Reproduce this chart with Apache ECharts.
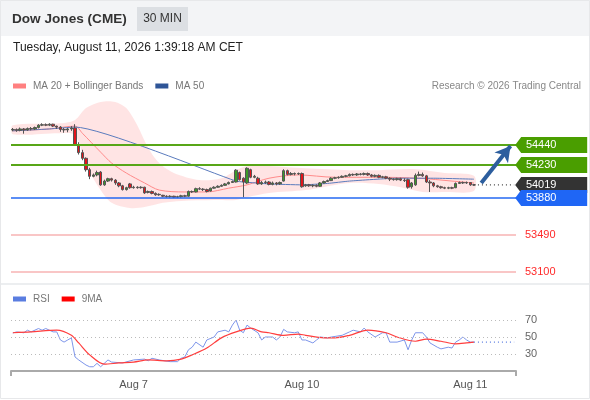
<!DOCTYPE html>
<html>
<head>
<meta charset="utf-8">
<script src="https://cdn.jsdelivr.net/npm/echarts@6/dist/echarts.min.js"></script>
<style>
html, body { margin: 0; padding: 0; background: #fff; }
#chart { width: 590px; height: 400px; }
</style>
</head>
<body>
<div id="chart"></div>
<script>
// 30 min candles, [open, close, low, high]
var candles = [
    [54600, 54605, 54585, 54620], [54605, 54595, 54580, 54615], [54595, 54610, 54585, 54625],
    [54610, 54600, 54560, 54620], [54600, 54615, 54590, 54625], [54615, 54610, 54595, 54630],
    [54610, 54625, 54600, 54635], [54625, 54650, 54615, 54660], [54650, 54655, 54640, 54670],
    [54655, 54650, 54640, 54668], [54650, 54660, 54640, 54670], [54660, 54640, 54630, 54665],
    [54640, 54630, 54610, 54645], [54630, 54605, 54580, 54640], [54605, 54600, 54570, 54620],
    [54600, 54610, 54575, 54620], [54610, 54620, 54590, 54640], [54620, 54440, 54430, 54660],
    [54440, 54360, 54340, 54470], [54360, 54300, 54280, 54390], [54300, 54180, 54160, 54310],
    [54180, 54110, 54080, 54200], [54110, 54125, 54100, 54140], [54125, 54150, 54110, 54170],
    [54155, 54020, 54010, 54165], [54020, 54060, 54010, 54075], [54060, 54085, 54050, 54095],
    [54085, 54070, 54055, 54095], [54070, 54040, 54020, 54080], [54040, 54010, 53995, 54050],
    [54010, 53970, 53960, 54020], [53970, 53990, 53960, 54000], [54030, 53990, 53980, 54040],
    [53990, 53995, 53980, 54010], [53995, 53990, 53980, 54005], [53990, 53995, 53980, 54005],
    [53995, 53935, 53925, 54000], [53940, 53950, 53930, 53960], [53950, 53930, 53920, 53960],
    [53930, 53915, 53905, 53940], [53915, 53920, 53905, 53930], [53910, 53900, 53890, 53915],
    [53900, 53895, 53885, 53910], [53895, 53900, 53885, 53910], [53900, 53890, 53880, 53905],
    [53890, 53895, 53880, 53905], [53895, 53905, 53885, 53915], [53905, 53900, 53890, 53915],
    [53900, 53950, 53895, 53960], [53950, 53945, 53935, 53960], [53945, 53980, 53940, 53990],
    [53980, 53975, 53965, 53995], [53975, 53970, 53955, 53985], [53970, 53950, 53940, 53980],
    [53955, 53985, 53950, 53990], [53985, 53995, 53980, 54005], [53995, 54005, 53990, 54015],
    [54005, 54015, 54000, 54025], [54015, 54030, 54010, 54040], [54030, 54045, 54025, 54055],
    [54045, 54055, 54040, 54065], [54050, 54175, 54045, 54185], [54150, 54075, 54065, 54160],
    [54090, 54050, 53890, 54100], [54040, 54195, 54030, 54205], [54180, 54100, 54090, 54190],
    [54100, 54110, 54090, 54125], [54090, 54030, 54020, 54105], [54030, 54045, 54020, 54060],
    [54045, 54050, 54030, 54065], [54050, 54025, 54015, 54060], [54025, 54040, 54015, 54055],
    [54040, 54030, 54015, 54050], [54030, 54045, 54020, 54055], [54060, 54170, 54055, 54185],
    [54170, 54130, 54120, 54180], [54130, 54140, 54120, 54155], [54140, 54135, 54120, 54150],
    [54135, 54140, 54125, 54150], [54140, 54000, 53990, 54150], [54010, 54020, 54000, 54030],
    [54020, 54010, 54000, 54030], [54010, 54015, 53995, 54025], [54015, 54005, 53995, 54025],
    [54005, 54040, 54000, 54050], [54040, 54055, 54035, 54065], [54055, 54065, 54050, 54075],
    [54065, 54090, 54060, 54100], [54090, 54095, 54080, 54105], [54095, 54100, 54085, 54110],
    [54100, 54110, 54095, 54120], [54110, 54115, 54100, 54125], [54115, 54130, 54110, 54140],
    [54130, 54125, 54115, 54140], [54125, 54135, 54115, 54145], [54135, 54130, 54120, 54145],
    [54130, 54140, 54120, 54150], [54140, 54125, 54115, 54150], [54125, 54110, 54100, 54135],
    [54110, 54120, 54100, 54130], [54120, 54100, 54090, 54130], [54100, 54105, 54090, 54115],
    [54105, 54090, 54080, 54115], [54090, 54080, 54060, 54100], [54080, 54075, 54065, 54090],
    [54075, 54085, 54065, 54095], [54085, 54070, 54060, 54095], [54070, 54065, 54050, 54090],
    [54075, 53995, 53980, 54085], [54000, 54040, 53980, 54050], [54020, 54120, 54010, 54140],
    [54120, 54130, 54110, 54160], [54130, 54115, 54105, 54150], [54115, 54050, 54040, 54125],
    [54050, 54040, 53945, 54070], [54040, 54010, 53995, 54050], [54010, 54000, 53990, 54020],
    [54000, 53990, 53980, 54010], [53990, 53985, 53975, 54000], [53985, 53990, 53975, 54000],
    [53990, 53985, 53975, 54000], [53990, 54035, 53985, 54045], [54035, 54045, 54030, 54055],
    [54045, 54040, 54030, 54055], [54040, 54045, 54030, 54055], [54045, 54020, 54010, 54050],
    [54020, 54019, 54010, 54030]
];

// indicator points: [bar index, value]
var ma20 = [[0, 54590], [10, 54610], [17, 54640], [19, 54565], [24, 54365], [27, 54250], [31, 54145],
    [36, 54040], [40, 53965], [47, 53945], [53, 53945], [59, 53985], [64, 54020], [70, 54090],
    [78, 54125], [88, 54100], [100, 54100], [111, 54090], [120, 54060], [126, 54040]];
var ma50 = [[0, 54590], [10, 54610], [17, 54630], [61, 54060], [63, 54050], [70, 54030], [79, 54020],
    [86, 54035], [92, 54060], [105, 54090], [115, 54090], [126, 54080]];
var bandUpper = [[0, 54650], [13, 54670], [17, 54705], [20, 54830], [24, 54895], [28, 54895], [31, 54830],
    [34, 54650], [37, 54410], [40, 54250], [44, 54145], [51, 54070], [57, 54090], [61, 54175],
    [64, 54220], [70, 54220], [80, 54195], [92, 54175], [100, 54175], [110, 54185], [118, 54145], [126, 54115]];
var bandLower = [[0, 54555], [13, 54565], [17, 54545], [20, 54230], [24, 53965], [27, 53830], [32, 53775],
    [36, 53785], [41, 53830], [46, 53850], [55, 53860], [61, 53860], [64, 53890], [70, 53935],
    [80, 53965], [92, 54040], [100, 54030], [106, 53995], [112, 53945], [118, 53945], [126, 53955]];

var rsi = [[0, 54.7], [1, 56], [3, 55], [4, 58], [5, 56], [7, 60], [8, 58], [9, 60], [11, 56], [12, 56],
    [13, 46.5], [14, 44], [15, 46.5], [16, 49], [17, 26.5], [18, 23], [20, 17], [21, 15], [22, 15], [23, 19],
    [24, 15], [26, 23], [27, 20.5], [30, 19.5], [33, 23], [36, 24], [37, 22], [38, 25], [40, 23], [43, 21],
    [45, 21], [46, 25], [47, 26.5], [48, 35], [49, 38], [50, 44], [52, 38], [53, 46.5], [55, 50], [56, 56],
    [58, 58], [59, 56], [60, 64], [61, 70], [62, 58], [63, 55], [64, 64], [65, 60.5], [67, 55], [68, 46.5],
    [69, 50], [71, 50], [72, 46.5], [73, 50], [74, 59], [75, 56], [77, 55], [78, 56], [79, 46.5], [80, 46.5],
    [82, 43], [83, 46.5], [84, 50], [86, 49], [87, 50], [90, 52], [92, 56], [93, 58], [95, 56], [96, 60.5],
    [97, 56], [99, 50], [101, 55], [102, 55], [103, 44], [105, 44], [107, 46.5], [108, 35], [109, 46.5],
    [110, 55], [112, 55], [113, 50], [114, 43], [116, 38], [117, 36], [119, 38], [120, 37], [121, 44],
    [122, 46.5], [123, 50], [124, 46.5], [125, 44], [126, 44]];
var rsiMa = [[0, 55], [5, 56], [12, 58], [16, 52], [18, 43], [21, 29], [25, 18], [29, 19.5], [33, 20.5],
    [37, 23], [42, 22], [46, 24], [49, 29], [53, 37], [57, 49], [61, 56], [65, 60.5], [68, 56], [70, 55],
    [74, 52], [78, 53.5], [80, 52], [85, 49], [88, 49], [92, 52], [97, 58], [102, 55], [105, 50],
    [110, 45], [113, 47.5], [117, 45], [121, 42], [124, 43], [126, 44]];

var levels = [54440, 54230, 53880, 53490, 53100];
var lastPrice = 54019;
var lastRsi = 44;
var dayTicks = {33: 'Aug 7', 79: 'Aug 10', 125: 'Aug 11'};
var slotCount = 138; // candles plus empty room on the right

var cats = [];
for (var i = 0; i < slotCount; i++) cats.push(String(i));
var lastIdx = candles.length - 1;
var endIdx = slotCount - 1;

var FONT = '"Liberation Sans", Arial, sans-serif';
var tagShape = 'path://M0,8L6,0L72,0L72,16L6,16Z';

function bandPolygon(params, api) {
    if (params.dataIndex !== 0) return null;
    var pts = [];
    for (var i = 0; i < bandUpper.length; i++) pts.push(api.coord(bandUpper[i]));
    for (var j = bandLower.length - 1; j >= 0; j--) pts.push(api.coord(bandLower[j]));
    return {
        type: 'polygon',
        shape: {points: pts, smooth: 0.3},
        style: {fill: '#ffe1e1', opacity: 0.9}
    };
}

function tag(value, color) {
    return {coord: [endIdx, value], value: value, itemStyle: {color: color}};
}

var chart = echarts.init(document.getElementById('chart'));
chart.setOption({
    animation: false,
    textStyle: {fontFamily: FONT},
    graphic: [
        {type: 'rect', shape: {x: 0, y: 0, width: 590, height: 36}, style: {fill: '#f3f4f6'}, z: -1},
        {type: 'rect', shape: {x: 0.5, y: 0.5, width: 589, height: 398}, style: {fill: 'none', stroke: '#e7e8ea'}, z: -1},
        {type: 'rect', shape: {x: 1, y: 283, width: 588, height: 2}, style: {fill: '#eceef0'}, z: -1},
        {type: 'text', x: 12, y: 19, style: {text: 'Dow Jones (CME)', font: 'bold 13.6px ' + FONT, fill: '#333', verticalAlign: 'middle'}},
        {type: 'rect', shape: {x: 137, y: 7, width: 51, height: 24}, style: {fill: '#dcdfe3'}},
        {type: 'text', x: 162.5, y: 19, style: {text: '30 MIN', font: '12px ' + FONT, fill: '#333', align: 'center', verticalAlign: 'middle'}},
        {type: 'text', x: 13, y: 48, style: {text: 'Tuesday, August 11, 2026 1:39:18 AM CET', font: '12px ' + FONT, fill: '#222', verticalAlign: 'middle'}},
        {type: 'text', x: 581, y: 86, style: {text: 'Research \u00a9 2026 Trading Central', font: '10px ' + FONT, fill: '#888', align: 'right', verticalAlign: 'middle'}}
    ],
    legend: [
        {
            left: 13, top: 81, padding: 0, icon: 'rect', itemWidth: 13, itemHeight: 5, itemGap: 12, selectedMode: false,
            textStyle: {color: '#777', fontSize: 10, padding: [0, 0, 0, 2]},
            data: [{name: 'MA 20 + Bollinger Bands', itemStyle: {color: '#ff8080'}},
                   {name: 'MA 50', itemStyle: {color: '#2f5597'}}]
        },
        {
            left: 13, top: 294, padding: 0, icon: 'rect', itemWidth: 13, itemHeight: 5, itemGap: 12, selectedMode: false,
            textStyle: {color: '#777', fontSize: 10, padding: [0, 0, 0, 2]},
            data: [{name: 'RSI', itemStyle: {color: '#5a7de0'}},
                   {name: '9MA', itemStyle: {color: '#ff0000'}}]
        }
    ],
    grid: [
        {left: 11, right: 74, top: 92, bottom: 118.5},
        {left: 11, right: 74, top: 311.5, bottom: 29}
    ],
    xAxis: [
        {type: 'category', gridIndex: 0, data: cats, show: false},
        {
            type: 'category', gridIndex: 1, data: cats,
            axisLine: {lineStyle: {color: '#aaa', width: 2}},
            axisTick: {show: false},
            axisLabel: {
                color: '#555', fontSize: 11, margin: 8,
                interval: function (index) { return dayTicks[index] !== undefined; },
                formatter: function (value, index) { return dayTicks[index] || ''; }
            }
        },
        {
            type: 'value', gridIndex: 1, min: 0, max: 1, interval: 1, position: 'bottom',
            axisLine: {show: false}, splitLine: {show: false}, axisLabel: {show: false},
            axisTick: {show: true, length: 5, lineStyle: {color: '#aaa', width: 2}}
        }
    ],
    yAxis: [
        {type: 'value', gridIndex: 0, min: 53000, max: 55000, show: false},
        {
            type: 'value', gridIndex: 1, min: 10, max: 80, interval: 20, position: 'right',
            axisLine: {show: false}, axisTick: {show: false}, splitLine: {show: false},
            axisLabel: {
                color: '#666', fontSize: 11, margin: 9,
                formatter: function (v) { return (v === 30 || v === 50 || v === 70) ? String(v) : ''; }
            }
        }
    ],
    series: [
        {
            type: 'custom', name: 'band', xAxisIndex: 0, yAxisIndex: 0, z: 1,
            renderItem: bandPolygon,
            data: [bandUpper[0]], silent: true
        },
        {
            name: 'MA 20 + Bollinger Bands', type: 'line', xAxisIndex: 0, yAxisIndex: 0, z: 3,
            data: ma20, smooth: 0.3, symbol: 'none',
            lineStyle: {color: '#ff8a8a', width: 1}, itemStyle: {color: '#ff8080'}
        },
        {
            name: 'MA 50', type: 'line', xAxisIndex: 0, yAxisIndex: 0, z: 3,
            data: ma50, smooth: 0.15, symbol: 'none',
            lineStyle: {color: '#5a7bbd', width: 1}, itemStyle: {color: '#2f5597'}
        },
        {
            name: 'price', type: 'candlestick', xAxisIndex: 0, yAxisIndex: 0, z: 4,
            data: candles, barWidth: 3,
            itemStyle: {color: '#3b9a28', color0: '#e3141b', borderColor: '#555', borderColor0: '#555', borderWidth: 1},
            markLine: {
                silent: true, symbol: 'none',
                data: [
                    {yAxis: levels[0], lineStyle: {color: '#58a618', width: 2, type: 'solid'}, label: {show: false}},
                    {yAxis: levels[1], lineStyle: {color: '#58a618', width: 2, type: 'solid'}, label: {show: false}},
                    {yAxis: levels[2], lineStyle: {color: '#2468f2', width: 1.5, type: 'solid'}, label: {show: false}},
                    {yAxis: levels[3], lineStyle: {color: '#f7b3b3', width: 1.5, type: 'solid'},
                        label: {show: true, position: 'end', distance: 9, color: '#ff2a2a', fontSize: 11, formatter: String(levels[3])}},
                    {yAxis: levels[4], lineStyle: {color: '#f7b3b3', width: 1.5, type: 'solid'},
                        label: {show: true, position: 'end', distance: 9, color: '#ff2a2a', fontSize: 11, formatter: String(levels[4])}}
                ]
            },
            markPoint: {
                symbol: tagShape, symbolSize: [72, 16], symbolKeepAspect: false, symbolOffset: [37, 0],
                silent: true,
                label: {show: true, position: 'inside', offset: [-10, 0], color: '#fff', fontSize: 11, formatter: '{c}'},
                data: [tag(levels[0], '#4a9e00'), tag(levels[1], '#4a9e00'), tag(lastPrice, '#333333'), tag(levels[2], '#1f66f5')]
            }
        },
        {
            name: 'projection', type: 'line', xAxisIndex: 0, yAxisIndex: 0, z: 5,
            data: [[lastIdx, lastPrice], [endIdx, lastPrice]], symbol: 'none',
            lineStyle: {color: '#444', width: 1.2, type: [1, 3]},
            markLine: {
                silent: true,
                data: [[
                    {coord: [lastIdx + 1.5, 54040], symbol: 'none'},
                    {coord: [endIdx - 0.8, 54430], symbol: 'arrow', symbolSize: [13, 15]}
                ]],
                lineStyle: {color: '#2c5e9e', width: 4, type: 'solid'},
                label: {show: false}
            }
        },
        {
            name: 'RSI', type: 'line', xAxisIndex: 1, yAxisIndex: 1,
            data: rsi, symbol: 'none',
            lineStyle: {color: '#7d95ea', width: 1}, itemStyle: {color: '#5a7de0'},
            markLine: {
                silent: true, symbol: 'none', label: {show: false},
                lineStyle: {color: '#bbb', width: 1, type: [1, 3]},
                data: [{yAxis: 30}, {yAxis: 50}, {yAxis: 70}]
            }
        },
        {
            name: '9MA', type: 'line', xAxisIndex: 1, yAxisIndex: 1,
            data: rsiMa, smooth: 0.3, symbol: 'none',
            lineStyle: {color: '#ff3d3d', width: 1.2}, itemStyle: {color: '#ff0000'}
        },
        {
            name: 'rsiProjection', type: 'line', xAxisIndex: 1, yAxisIndex: 1,
            data: [[lastIdx, lastRsi], [endIdx, lastRsi]], symbol: 'none',
            lineStyle: {color: '#5a7de0', width: 1.2, type: [1, 3]}
        }
    ]
});
</script>
</body>
</html>
